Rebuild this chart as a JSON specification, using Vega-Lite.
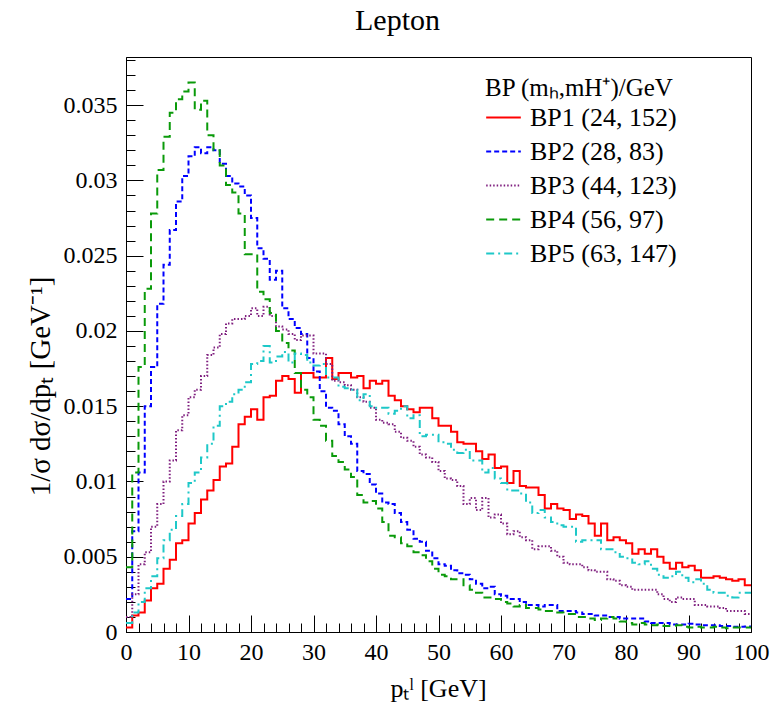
{
"$schema":"https://vega.github.io/schema/vega-lite/v6.json",
"width":625,"height":575,
"autosize":{"type":"none"},
"padding":{"left":126,"top":57,"right":33,"bottom":76},
"background":"white",
"config":{"view":{"stroke":"black","strokeWidth":1},"font":"Liberation Serif"},
"title":{"text":"Lepton","font":"Liberation Serif","fontSize":30,"fontWeight":"normal","color":"black","anchor":"middle","frame":"bounds","offset":21},
"data":{"values":[
{"s":"BP1","x":0,"y":0.0003},{"s":"BP1","x":1,"y":0.0011},{"s":"BP1","x":2,"y":0.0013},{"s":"BP1","x":3,"y":0.0021},{"s":"BP1","x":4,"y":0.0029},{"s":"BP1","x":5,"y":0.0032},{"s":"BP1","x":6,"y":0.0042},{"s":"BP1","x":7,"y":0.0048},{"s":"BP1","x":8,"y":0.0059},{"s":"BP1","x":9,"y":0.0061},
{"s":"BP1","x":10,"y":0.0072},{"s":"BP1","x":11,"y":0.0079},{"s":"BP1","x":12,"y":0.0088},{"s":"BP1","x":13,"y":0.0094},{"s":"BP1","x":14,"y":0.0101},{"s":"BP1","x":15,"y":0.0110},{"s":"BP1","x":16,"y":0.0112},{"s":"BP1","x":17,"y":0.0123},{"s":"BP1","x":18,"y":0.0138},{"s":"BP1","x":19,"y":0.0143},
{"s":"BP1","x":20,"y":0.0148},{"s":"BP1","x":21,"y":0.0141},{"s":"BP1","x":22,"y":0.0156},{"s":"BP1","x":23,"y":0.0157},{"s":"BP1","x":24,"y":0.0167},{"s":"BP1","x":25,"y":0.0170},{"s":"BP1","x":26,"y":0.0168},{"s":"BP1","x":27,"y":0.0159},{"s":"BP1","x":28,"y":0.0172},{"s":"BP1","x":29,"y":0.0172},
{"s":"BP1","x":30,"y":0.0169},{"s":"BP1","x":31,"y":0.0169},{"s":"BP1","x":32,"y":0.0182},{"s":"BP1","x":33,"y":0.0168},{"s":"BP1","x":34,"y":0.0172},{"s":"BP1","x":35,"y":0.0172},{"s":"BP1","x":36,"y":0.0169},{"s":"BP1","x":37,"y":0.0170},{"s":"BP1","x":38,"y":0.0162},{"s":"BP1","x":39,"y":0.0167},
{"s":"BP1","x":40,"y":0.0165},{"s":"BP1","x":41,"y":0.0167},{"s":"BP1","x":42,"y":0.0157},{"s":"BP1","x":43,"y":0.0154},{"s":"BP1","x":44,"y":0.0150},{"s":"BP1","x":45,"y":0.0148},{"s":"BP1","x":46,"y":0.0146},{"s":"BP1","x":47,"y":0.0149},{"s":"BP1","x":48,"y":0.0149},{"s":"BP1","x":49,"y":0.0142},
{"s":"BP1","x":50,"y":0.0137},{"s":"BP1","x":51,"y":0.0137},{"s":"BP1","x":52,"y":0.0133},{"s":"BP1","x":53,"y":0.0126},{"s":"BP1","x":54,"y":0.0125},{"s":"BP1","x":55,"y":0.0125},{"s":"BP1","x":56,"y":0.0120},{"s":"BP1","x":57,"y":0.0115},{"s":"BP1","x":58,"y":0.0118},{"s":"BP1","x":59,"y":0.0109},
{"s":"BP1","x":60,"y":0.0110},{"s":"BP1","x":61,"y":0.0099},{"s":"BP1","x":62,"y":0.0107},{"s":"BP1","x":63,"y":0.0097},{"s":"BP1","x":64,"y":0.0096},{"s":"BP1","x":65,"y":0.0096},{"s":"BP1","x":66,"y":0.0091},{"s":"BP1","x":67,"y":0.0082},{"s":"BP1","x":68,"y":0.0085},{"s":"BP1","x":69,"y":0.0082},
{"s":"BP1","x":70,"y":0.0081},{"s":"BP1","x":71,"y":0.0075},{"s":"BP1","x":72,"y":0.0078},{"s":"BP1","x":73,"y":0.0077},{"s":"BP1","x":74,"y":0.0072},{"s":"BP1","x":75,"y":0.0064},{"s":"BP1","x":76,"y":0.0072},{"s":"BP1","x":77,"y":0.0061},{"s":"BP1","x":78,"y":0.0063},{"s":"BP1","x":79,"y":0.0061},
{"s":"BP1","x":80,"y":0.0059},{"s":"BP1","x":81,"y":0.0052},{"s":"BP1","x":82,"y":0.0055},{"s":"BP1","x":83,"y":0.0052},{"s":"BP1","x":84,"y":0.0055},{"s":"BP1","x":85,"y":0.0050},{"s":"BP1","x":86,"y":0.0046},{"s":"BP1","x":87,"y":0.0042},{"s":"BP1","x":88,"y":0.0046},{"s":"BP1","x":89,"y":0.0043},
{"s":"BP1","x":90,"y":0.0044},{"s":"BP1","x":91,"y":0.0041},{"s":"BP1","x":92,"y":0.0036},{"s":"BP1","x":93,"y":0.0036},{"s":"BP1","x":94,"y":0.0037},{"s":"BP1","x":95,"y":0.0036},{"s":"BP1","x":96,"y":0.0035},{"s":"BP1","x":97,"y":0.0034},{"s":"BP1","x":98,"y":0.0035},{"s":"BP1","x":99,"y":0.0031},{"s":"BP1","x":100,"y":0.0031},
{"s":"BP2","x":0,"y":0.0022},{"s":"BP2","x":1,"y":0.0067},{"s":"BP2","x":2,"y":0.0106},{"s":"BP2","x":3,"y":0.0150},{"s":"BP2","x":4,"y":0.0176},{"s":"BP2","x":5,"y":0.0218},{"s":"BP2","x":6,"y":0.0244},{"s":"BP2","x":7,"y":0.0267},{"s":"BP2","x":8,"y":0.0286},{"s":"BP2","x":9,"y":0.0303},
{"s":"BP2","x":10,"y":0.0316},{"s":"BP2","x":11,"y":0.0322},{"s":"BP2","x":12,"y":0.0318},{"s":"BP2","x":13,"y":0.0322},{"s":"BP2","x":14,"y":0.0320},{"s":"BP2","x":15,"y":0.0311},{"s":"BP2","x":16,"y":0.0303},{"s":"BP2","x":17,"y":0.0298},{"s":"BP2","x":18,"y":0.0296},{"s":"BP2","x":19,"y":0.0290},
{"s":"BP2","x":20,"y":0.0275},{"s":"BP2","x":21,"y":0.0255},{"s":"BP2","x":22,"y":0.0248},{"s":"BP2","x":23,"y":0.0234},{"s":"BP2","x":24,"y":0.0240},{"s":"BP2","x":25,"y":0.0215},{"s":"BP2","x":26,"y":0.0208},{"s":"BP2","x":27,"y":0.0202},{"s":"BP2","x":28,"y":0.0198},{"s":"BP2","x":29,"y":0.0182},
{"s":"BP2","x":30,"y":0.0173},{"s":"BP2","x":31,"y":0.0160},{"s":"BP2","x":32,"y":0.0149},{"s":"BP2","x":33,"y":0.0147},{"s":"BP2","x":34,"y":0.0138},{"s":"BP2","x":35,"y":0.0130},{"s":"BP2","x":36,"y":0.0125},{"s":"BP2","x":37,"y":0.0107},{"s":"BP2","x":38,"y":0.0105},{"s":"BP2","x":39,"y":0.0098},
{"s":"BP2","x":40,"y":0.0092},{"s":"BP2","x":41,"y":0.0086},{"s":"BP2","x":42,"y":0.0085},{"s":"BP2","x":43,"y":0.0079},{"s":"BP2","x":44,"y":0.0073},{"s":"BP2","x":45,"y":0.0068},{"s":"BP2","x":46,"y":0.0062},{"s":"BP2","x":47,"y":0.0060},{"s":"BP2","x":48,"y":0.0054},{"s":"BP2","x":49,"y":0.0049},
{"s":"BP2","x":50,"y":0.0045},{"s":"BP2","x":51,"y":0.0044},{"s":"BP2","x":52,"y":0.0041},{"s":"BP2","x":53,"y":0.0039},{"s":"BP2","x":54,"y":0.0038},{"s":"BP2","x":55,"y":0.0035},{"s":"BP2","x":56,"y":0.0032},{"s":"BP2","x":57,"y":0.0029},{"s":"BP2","x":58,"y":0.0030},{"s":"BP2","x":59,"y":0.0025},
{"s":"BP2","x":60,"y":0.0024},{"s":"BP2","x":61,"y":0.0022},{"s":"BP2","x":62,"y":0.0022},{"s":"BP2","x":63,"y":0.0020},{"s":"BP2","x":64,"y":0.0018},{"s":"BP2","x":65,"y":0.0018},{"s":"BP2","x":66,"y":0.0017},{"s":"BP2","x":67,"y":0.0018},{"s":"BP2","x":68,"y":0.0018},{"s":"BP2","x":69,"y":0.0014},
{"s":"BP2","x":70,"y":0.0014},{"s":"BP2","x":71,"y":0.0014},{"s":"BP2","x":72,"y":0.0013},{"s":"BP2","x":73,"y":0.0012},{"s":"BP2","x":74,"y":0.0012},{"s":"BP2","x":75,"y":0.0011},{"s":"BP2","x":76,"y":0.0011},{"s":"BP2","x":77,"y":0.0010},{"s":"BP2","x":78,"y":0.0010},{"s":"BP2","x":79,"y":0.0009},
{"s":"BP2","x":80,"y":0.0009},{"s":"BP2","x":81,"y":0.0009},{"s":"BP2","x":82,"y":0.0009},{"s":"BP2","x":83,"y":0.0007},{"s":"BP2","x":84,"y":0.0006},{"s":"BP2","x":85,"y":0.0006},{"s":"BP2","x":86,"y":0.0006},{"s":"BP2","x":87,"y":0.0005},{"s":"BP2","x":88,"y":0.0005},{"s":"BP2","x":89,"y":0.0005},
{"s":"BP2","x":90,"y":0.00055},{"s":"BP2","x":91,"y":0.0005},{"s":"BP2","x":92,"y":0.00045},{"s":"BP2","x":93,"y":0.00045},{"s":"BP2","x":94,"y":0.00045},{"s":"BP2","x":95,"y":0.0004},{"s":"BP2","x":96,"y":0.0004},{"s":"BP2","x":97,"y":0.00035},{"s":"BP2","x":98,"y":0.00035},{"s":"BP2","x":99,"y":0.00037},{"s":"BP2","x":100,"y":0.00037},
{"s":"BP3","x":0,"y":0.0010},{"s":"BP3","x":1,"y":0.0025},{"s":"BP3","x":2,"y":0.0045},{"s":"BP3","x":3,"y":0.0053},{"s":"BP3","x":4,"y":0.0070},{"s":"BP3","x":5,"y":0.0085},{"s":"BP3","x":6,"y":0.0100},{"s":"BP3","x":7,"y":0.0114},{"s":"BP3","x":8,"y":0.0134},{"s":"BP3","x":9,"y":0.0144},
{"s":"BP3","x":10,"y":0.0156},{"s":"BP3","x":11,"y":0.0161},{"s":"BP3","x":12,"y":0.0170},{"s":"BP3","x":13,"y":0.0184},{"s":"BP3","x":14,"y":0.0189},{"s":"BP3","x":15,"y":0.0198},{"s":"BP3","x":16,"y":0.0205},{"s":"BP3","x":17,"y":0.0208},{"s":"BP3","x":18,"y":0.0208},{"s":"BP3","x":19,"y":0.0210},
{"s":"BP3","x":20,"y":0.0215},{"s":"BP3","x":21,"y":0.0210},{"s":"BP3","x":22,"y":0.0216},{"s":"BP3","x":23,"y":0.0210},{"s":"BP3","x":24,"y":0.0203},{"s":"BP3","x":25,"y":0.0201},{"s":"BP3","x":26,"y":0.0198},{"s":"BP3","x":27,"y":0.0194},{"s":"BP3","x":28,"y":0.0197},{"s":"BP3","x":29,"y":0.0197},
{"s":"BP3","x":30,"y":0.0185},{"s":"BP3","x":31,"y":0.0185},{"s":"BP3","x":32,"y":0.0178},{"s":"BP3","x":33,"y":0.0167},{"s":"BP3","x":34,"y":0.0166},{"s":"BP3","x":35,"y":0.0164},{"s":"BP3","x":36,"y":0.0161},{"s":"BP3","x":37,"y":0.0156},{"s":"BP3","x":38,"y":0.0153},{"s":"BP3","x":39,"y":0.0149},
{"s":"BP3","x":40,"y":0.0141},{"s":"BP3","x":41,"y":0.0139},{"s":"BP3","x":42,"y":0.0138},{"s":"BP3","x":43,"y":0.0133},{"s":"BP3","x":44,"y":0.0129},{"s":"BP3","x":45,"y":0.0127},{"s":"BP3","x":46,"y":0.0123},{"s":"BP3","x":47,"y":0.0118},{"s":"BP3","x":48,"y":0.0116},{"s":"BP3","x":49,"y":0.0113},
{"s":"BP3","x":50,"y":0.0107},{"s":"BP3","x":51,"y":0.0102},{"s":"BP3","x":52,"y":0.0101},{"s":"BP3","x":53,"y":0.0097},{"s":"BP3","x":54,"y":0.0085},{"s":"BP3","x":55,"y":0.0089},{"s":"BP3","x":56,"y":0.0081},{"s":"BP3","x":57,"y":0.0089},{"s":"BP3","x":58,"y":0.0076},{"s":"BP3","x":59,"y":0.0078},
{"s":"BP3","x":60,"y":0.0072},{"s":"BP3","x":61,"y":0.0065},{"s":"BP3","x":62,"y":0.0067},{"s":"BP3","x":63,"y":0.0063},{"s":"BP3","x":64,"y":0.0061},{"s":"BP3","x":65,"y":0.0055},{"s":"BP3","x":66,"y":0.0057},{"s":"BP3","x":67,"y":0.0057},{"s":"BP3","x":68,"y":0.0054},{"s":"BP3","x":69,"y":0.0050},
{"s":"BP3","x":70,"y":0.0046},{"s":"BP3","x":71,"y":0.0045},{"s":"BP3","x":72,"y":0.0045},{"s":"BP3","x":73,"y":0.0043},{"s":"BP3","x":74,"y":0.0041},{"s":"BP3","x":75,"y":0.0040},{"s":"BP3","x":76,"y":0.0040},{"s":"BP3","x":77,"y":0.0035},{"s":"BP3","x":78,"y":0.0034},{"s":"BP3","x":79,"y":0.0031},
{"s":"BP3","x":80,"y":0.0030},{"s":"BP3","x":81,"y":0.0028},{"s":"BP3","x":82,"y":0.0028},{"s":"BP3","x":83,"y":0.0028},{"s":"BP3","x":84,"y":0.0028},{"s":"BP3","x":85,"y":0.0025},{"s":"BP3","x":86,"y":0.0022},{"s":"BP3","x":87,"y":0.0020},{"s":"BP3","x":88,"y":0.0023},{"s":"BP3","x":89,"y":0.0022},
{"s":"BP3","x":90,"y":0.0022},{"s":"BP3","x":91,"y":0.0018},{"s":"BP3","x":92,"y":0.0018},{"s":"BP3","x":93,"y":0.0017},{"s":"BP3","x":94,"y":0.0017},{"s":"BP3","x":95,"y":0.0016},{"s":"BP3","x":96,"y":0.0014},{"s":"BP3","x":97,"y":0.0014},{"s":"BP3","x":98,"y":0.0014},{"s":"BP3","x":99,"y":0.0012},{"s":"BP3","x":100,"y":0.0012},
{"s":"BP4","x":0,"y":0.0043},{"s":"BP4","x":1,"y":0.0106},{"s":"BP4","x":2,"y":0.0176},{"s":"BP4","x":3,"y":0.0228},{"s":"BP4","x":4,"y":0.0278},{"s":"BP4","x":5,"y":0.0307},{"s":"BP4","x":6,"y":0.0329},{"s":"BP4","x":7,"y":0.0345},{"s":"BP4","x":8,"y":0.0354},{"s":"BP4","x":9,"y":0.0359},
{"s":"BP4","x":10,"y":0.0365},{"s":"BP4","x":11,"y":0.0347},{"s":"BP4","x":12,"y":0.0353},{"s":"BP4","x":13,"y":0.0330},{"s":"BP4","x":14,"y":0.0320},{"s":"BP4","x":15,"y":0.0310},{"s":"BP4","x":16,"y":0.0297},{"s":"BP4","x":17,"y":0.0292},{"s":"BP4","x":18,"y":0.0278},{"s":"BP4","x":19,"y":0.0251},
{"s":"BP4","x":20,"y":0.0251},{"s":"BP4","x":21,"y":0.0226},{"s":"BP4","x":22,"y":0.0221},{"s":"BP4","x":23,"y":0.0212},{"s":"BP4","x":24,"y":0.0200},{"s":"BP4","x":25,"y":0.0192},{"s":"BP4","x":26,"y":0.0187},{"s":"BP4","x":27,"y":0.0172},{"s":"BP4","x":28,"y":0.0161},{"s":"BP4","x":29,"y":0.0156},
{"s":"BP4","x":30,"y":0.0141},{"s":"BP4","x":31,"y":0.0137},{"s":"BP4","x":32,"y":0.0127},{"s":"BP4","x":33,"y":0.0117},{"s":"BP4","x":34,"y":0.0113},{"s":"BP4","x":35,"y":0.0108},{"s":"BP4","x":36,"y":0.0103},{"s":"BP4","x":37,"y":0.0091},{"s":"BP4","x":38,"y":0.0086},{"s":"BP4","x":39,"y":0.0087},
{"s":"BP4","x":40,"y":0.0082},{"s":"BP4","x":41,"y":0.0073},{"s":"BP4","x":42,"y":0.0064},{"s":"BP4","x":43,"y":0.0063},{"s":"BP4","x":44,"y":0.0059},{"s":"BP4","x":45,"y":0.0057},{"s":"BP4","x":46,"y":0.0053},{"s":"BP4","x":47,"y":0.0051},{"s":"BP4","x":48,"y":0.0047},{"s":"BP4","x":49,"y":0.0042},
{"s":"BP4","x":50,"y":0.0038},{"s":"BP4","x":51,"y":0.0037},{"s":"BP4","x":52,"y":0.0035},{"s":"BP4","x":53,"y":0.0035},{"s":"BP4","x":54,"y":0.0031},{"s":"BP4","x":55,"y":0.0028},{"s":"BP4","x":56,"y":0.0026},{"s":"BP4","x":57,"y":0.0023},{"s":"BP4","x":58,"y":0.0023},{"s":"BP4","x":59,"y":0.0022},
{"s":"BP4","x":60,"y":0.0020},{"s":"BP4","x":61,"y":0.0019},{"s":"BP4","x":62,"y":0.0017},{"s":"BP4","x":63,"y":0.0018},{"s":"BP4","x":64,"y":0.0016},{"s":"BP4","x":65,"y":0.0016},{"s":"BP4","x":66,"y":0.0015},{"s":"BP4","x":67,"y":0.0014},{"s":"BP4","x":68,"y":0.0014},{"s":"BP4","x":69,"y":0.0013},
{"s":"BP4","x":70,"y":0.0012},{"s":"BP4","x":71,"y":0.0012},{"s":"BP4","x":72,"y":0.0010},{"s":"BP4","x":73,"y":0.0010},{"s":"BP4","x":74,"y":0.0009},{"s":"BP4","x":75,"y":0.0008},{"s":"BP4","x":76,"y":0.0009},{"s":"BP4","x":77,"y":0.0010},{"s":"BP4","x":78,"y":0.0009},{"s":"BP4","x":79,"y":0.0007},
{"s":"BP4","x":80,"y":0.0006},{"s":"BP4","x":81,"y":0.0005},{"s":"BP4","x":82,"y":0.0006},{"s":"BP4","x":83,"y":0.0005},{"s":"BP4","x":84,"y":0.00045},{"s":"BP4","x":85,"y":0.0005},{"s":"BP4","x":86,"y":0.0004},{"s":"BP4","x":87,"y":0.0004},{"s":"BP4","x":88,"y":0.00045},{"s":"BP4","x":89,"y":0.00035},
{"s":"BP4","x":90,"y":0.0003},{"s":"BP4","x":91,"y":0.00035},{"s":"BP4","x":92,"y":0.0003},{"s":"BP4","x":93,"y":0.0003},{"s":"BP4","x":94,"y":0.00035},{"s":"BP4","x":95,"y":0.0003},{"s":"BP4","x":96,"y":0.00025},{"s":"BP4","x":97,"y":0.0003},{"s":"BP4","x":98,"y":0.0003},{"s":"BP4","x":99,"y":0.0003},{"s":"BP4","x":100,"y":0.0003},
{"s":"BP5","x":0,"y":0.0006},{"s":"BP5","x":1,"y":0.0013},{"s":"BP5","x":2,"y":0.0020},{"s":"BP5","x":3,"y":0.0029},{"s":"BP5","x":4,"y":0.0037},{"s":"BP5","x":5,"y":0.0049},{"s":"BP5","x":6,"y":0.0061},{"s":"BP5","x":7,"y":0.0068},{"s":"BP5","x":8,"y":0.0077},{"s":"BP5","x":9,"y":0.0085},
{"s":"BP5","x":10,"y":0.0099},{"s":"BP5","x":11,"y":0.0106},{"s":"BP5","x":12,"y":0.0116},{"s":"BP5","x":13,"y":0.0125},{"s":"BP5","x":14,"y":0.0137},{"s":"BP5","x":15,"y":0.0150},{"s":"BP5","x":16,"y":0.0153},{"s":"BP5","x":17,"y":0.0158},{"s":"BP5","x":18,"y":0.0161},{"s":"BP5","x":19,"y":0.0166},
{"s":"BP5","x":20,"y":0.0178},{"s":"BP5","x":21,"y":0.0180},{"s":"BP5","x":22,"y":0.0190},{"s":"BP5","x":23,"y":0.0179},{"s":"BP5","x":24,"y":0.0183},{"s":"BP5","x":25,"y":0.0186},{"s":"BP5","x":26,"y":0.0179},{"s":"BP5","x":27,"y":0.0185},{"s":"BP5","x":28,"y":0.0184},{"s":"BP5","x":29,"y":0.0179},
{"s":"BP5","x":30,"y":0.0177},{"s":"BP5","x":31,"y":0.0178},{"s":"BP5","x":32,"y":0.0169},{"s":"BP5","x":33,"y":0.0169},{"s":"BP5","x":34,"y":0.0163},{"s":"BP5","x":35,"y":0.0162},{"s":"BP5","x":36,"y":0.0161},{"s":"BP5","x":37,"y":0.0154},{"s":"BP5","x":38,"y":0.0158},{"s":"BP5","x":39,"y":0.0150},
{"s":"BP5","x":40,"y":0.0149},{"s":"BP5","x":41,"y":0.0149},{"s":"BP5","x":42,"y":0.0145},{"s":"BP5","x":43,"y":0.0147},{"s":"BP5","x":44,"y":0.0150},{"s":"BP5","x":45,"y":0.0142},{"s":"BP5","x":46,"y":0.0144},{"s":"BP5","x":47,"y":0.0130},{"s":"BP5","x":48,"y":0.0131},{"s":"BP5","x":49,"y":0.0131},
{"s":"BP5","x":50,"y":0.0126},{"s":"BP5","x":51,"y":0.0125},{"s":"BP5","x":52,"y":0.0121},{"s":"BP5","x":53,"y":0.0119},{"s":"BP5","x":54,"y":0.0121},{"s":"BP5","x":55,"y":0.0114},{"s":"BP5","x":56,"y":0.0114},{"s":"BP5","x":57,"y":0.0106},{"s":"BP5","x":58,"y":0.0109},{"s":"BP5","x":59,"y":0.0102},
{"s":"BP5","x":60,"y":0.0099},{"s":"BP5","x":61,"y":0.0094},{"s":"BP5","x":62,"y":0.0094},{"s":"BP5","x":63,"y":0.0092},{"s":"BP5","x":64,"y":0.0086},{"s":"BP5","x":65,"y":0.0079},{"s":"BP5","x":66,"y":0.0081},{"s":"BP5","x":67,"y":0.0076},{"s":"BP5","x":68,"y":0.0073},{"s":"BP5","x":69,"y":0.0071},
{"s":"BP5","x":70,"y":0.0070},{"s":"BP5","x":71,"y":0.0070},{"s":"BP5","x":72,"y":0.0060},{"s":"BP5","x":73,"y":0.0061},{"s":"BP5","x":74,"y":0.0061},{"s":"BP5","x":75,"y":0.0061},{"s":"BP5","x":76,"y":0.0055},{"s":"BP5","x":77,"y":0.0055},{"s":"BP5","x":78,"y":0.0053},{"s":"BP5","x":79,"y":0.0050},
{"s":"BP5","x":80,"y":0.0049},{"s":"BP5","x":81,"y":0.0046},{"s":"BP5","x":82,"y":0.0045},{"s":"BP5","x":83,"y":0.0047},{"s":"BP5","x":84,"y":0.0042},{"s":"BP5","x":85,"y":0.0038},{"s":"BP5","x":86,"y":0.0036},{"s":"BP5","x":87,"y":0.0037},{"s":"BP5","x":88,"y":0.0040},{"s":"BP5","x":89,"y":0.0036},
{"s":"BP5","x":90,"y":0.0033},{"s":"BP5","x":91,"y":0.0035},{"s":"BP5","x":92,"y":0.0032},{"s":"BP5","x":93,"y":0.0028},{"s":"BP5","x":94,"y":0.0026},{"s":"BP5","x":95,"y":0.0026},{"s":"BP5","x":96,"y":0.0024},{"s":"BP5","x":97,"y":0.0023},{"s":"BP5","x":98,"y":0.0026},{"s":"BP5","x":99,"y":0.0026},{"s":"BP5","x":100,"y":0.0026}
]},
"layer":[
{"mark":{"type":"line","interpolate":"step-after","clip":true,"strokeWidth":2},
 "encoding":{
  "x":{"field":"x","type":"quantitative","scale":{"domain":[0,100],"nice":false,"zero":false},
   "axis":{"orient":"bottom","values":[0,10,20,30,40,50,60,70,80,90,100],"tickSize":-17,"tickColor":"black","tickWidth":1,"domainColor":"black","domainWidth":1,"grid":false,"labelFont":"Liberation Serif","labelFontSize":24,"labelColor":"black","labelPadding":25,"labelFlush":false,"labelOverlap":false,"title":"pₜˡ [GeV]","titleFont":"Liberation Serif","titleFontSize":26,"titleFontWeight":"normal","titleColor":"black","titleX":312,"titleY":56,"titleBaseline":"middle","titleAlign":"center"}},
  "y":{"field":"y","type":"quantitative","scale":{"domain":[0,0.0382],"nice":false,"zero":false},
   "axis":{"orient":"left","values":[0,0.005,0.01,0.015,0.02,0.025,0.03,0.035],"format":"~g","tickSize":-17,"tickColor":"black","tickWidth":1,"domainColor":"black","domainWidth":1,"grid":false,"labelFont":"Liberation Serif","labelFontSize":24,"labelColor":"black","labelPadding":26,"labelFlush":false,"labelOverlap":false,"title":"1/σ dσ/dpₜ [GeV⁻¹]","titleFont":"Liberation Serif","titleFontSize":29,"titleFontWeight":"normal","titleColor":"black","titleX":-86,"titleY":329,"titleBaseline":"middle","titleAlign":"center","titleAngle":-90}},
  "color":{"field":"s","type":"nominal","scale":{"domain":["BP1","BP2","BP3","BP4","BP5"],"range":["#ff0000","#0000ff","#7f1f7f","#0a9a0a","#1ec8c8"]},
   "legend":{"orient":"none","legendX":359,"legendY":19,"title":"BP (mₕ,mH⁺)/GeV","titleLimit":500,"titleFont":"Liberation Serif","titleFontSize":25,"titleFontWeight":"normal","titleColor":"black","titlePadding":-2,"labelFont":"Liberation Serif","labelFontSize":26,"labelColor":"black","symbolType":"stroke","symbolSize":1200,"symbolStrokeWidth":2,"rowPadding":2,"labelOffset":8,"padding":0,"labelLimit":400,"labelExpr":"datum.label == 'BP1' ? 'BP1 (24, 152)' : datum.label == 'BP2' ? 'BP2 (28, 83)' : datum.label == 'BP3' ? 'BP3 (44, 123)' : datum.label == 'BP4' ? 'BP4 (56, 97)' : 'BP5 (63, 147)'"}},
  "strokeDash":{"field":"s","type":"nominal","scale":{"domain":["BP1","BP2","BP3","BP4","BP5"],"range":[[1,0],[5,3],[1.5,2],[8,5],[8,4,2,4]]},
   "legend":{"orient":"none","legendX":359,"legendY":19,"title":"BP (mₕ,mH⁺)/GeV","titleLimit":500,"titleFont":"Liberation Serif","titleFontSize":25,"titleFontWeight":"normal","titleColor":"black","titlePadding":-2,"labelFont":"Liberation Serif","labelFontSize":26,"labelColor":"black","symbolType":"stroke","symbolSize":1200,"symbolStrokeWidth":2,"rowPadding":2,"labelOffset":8,"padding":0,"labelLimit":400,"labelExpr":"datum.label == 'BP1' ? 'BP1 (24, 152)' : datum.label == 'BP2' ? 'BP2 (28, 83)' : datum.label == 'BP3' ? 'BP3 (44, 123)' : datum.label == 'BP4' ? 'BP4 (56, 97)' : 'BP5 (63, 147)'"}}
 }},
{"mark":{"type":"point","opacity":0},
 "encoding":{
  "x":{"field":"x","type":"quantitative",
   "axis":{"orient":"bottom","values":[2,4,6,8,12,14,16,18,22,24,26,28,32,34,36,38,42,44,46,48,52,54,56,58,62,64,66,68,72,74,76,78,82,84,86,88,92,94,96,98],"tickSize":-9,"tickColor":"black","tickWidth":1,"domain":false,"labels":false,"grid":false,"title":null}},
  "y":{"field":"y","type":"quantitative",
   "axis":{"orient":"left","values":[0.001,0.002,0.003,0.004,0.006,0.007,0.008,0.009,0.011,0.012,0.013,0.014,0.016,0.017,0.018,0.019,0.021,0.022,0.023,0.024,0.026,0.027,0.028,0.029,0.031,0.032,0.033,0.034,0.036,0.037,0.038],"tickSize":-9,"tickColor":"black","tickWidth":1,"domain":false,"labels":false,"grid":false,"title":null}}
 }}
],
"resolve":{"axis":{"x":"independent","y":"independent"}}
}
